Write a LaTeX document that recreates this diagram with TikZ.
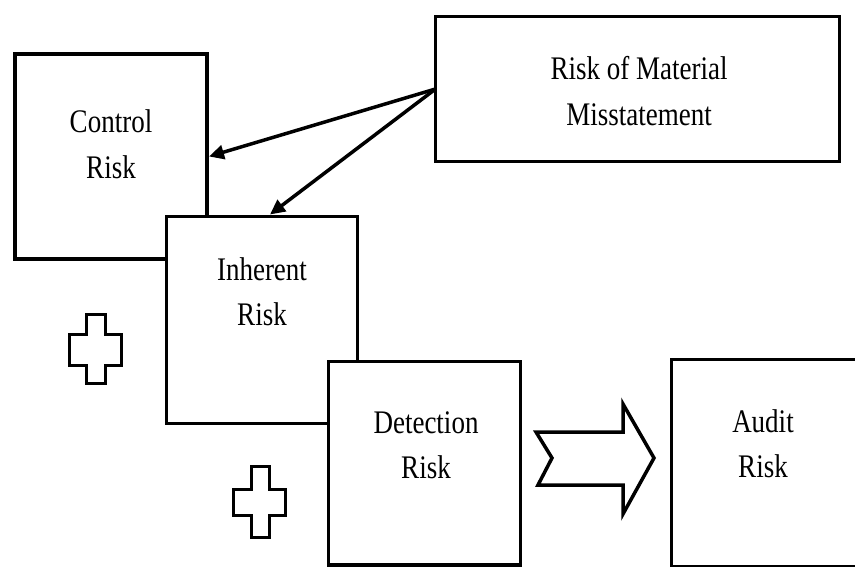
\documentclass[tikz,border=0pt]{standalone}
\usepackage{fontspec}
\setmainfont{Liberation Serif}
\usetikzlibrary{arrows.meta}
\newcommand{\twoline}[2]{\scalebox{1}[1.22]{\begin{tabular}[t]{@{}c@{}}#1\\#2\end{tabular}}}
\tikzset{
  box/.style={draw=black, line width=3.5pt, fill=white, inner sep=0pt, outer sep=0pt, rectangle},
  lbl/.style={inner sep=0pt, anchor=base, font=\fontsize{27}{37}\selectfont},
  conn/.style={line width=3.5pt, -{Triangle[length=15pt,width=14pt]}},
  deco/.style={draw=black, line width=3.5pt, fill=white, line join=miter}
}
\begin{document}
\begin{tikzpicture}[x=1pt,y=-1pt]
\useasboundingbox (0,0) rectangle (855,567);
\clip (0,0) rectangle (855,567);
\fill[white] (0,0) rectangle (855,567);
% boxes
\node[box, minimum width=192pt, minimum height=205pt] (ctrl) at (111,156.5) {};
\node[box, minimum width=191pt, minimum height=207pt] (inh) at (262,320) {};
\node[box, minimum width=192pt, minimum height=203.5pt] (det) at (424.5,463.25) {};
\node[box, minimum width=198.5pt, minimum height=207.5pt] (aud) at (770.75,463.25) {};
\node[box, minimum width=404pt, minimum height=145pt] (rmm) at (637.5,89) {};
% labels
\node[lbl] (ctrlt) at (111,133) {\twoline{Control}{Risk}};
\node[lbl] (inht) at (262,280) {\twoline{Inherent}{Risk}};
\node[lbl] (dett) at (426,433) {\twoline{Detection}{Risk}};
\node[lbl] (audt) at (763,432) {\twoline{Audit}{Risk}};
\node[lbl] (rmmt) at (639,80) {\twoline{Risk of Material}{Misstatement}};
% connectors
\draw[conn] (rmm.west) -- ([xshift=2pt]ctrl.east);
\draw[conn] (rmm.west) -- ([xshift=8pt,yshift=2pt]inh.north);
% plus signs
\draw[deco] (86.5,314.5) -- (105.5,314.5) -- (105.5,334.5) -- (121.5,334.5) -- (121.5,365.5)
  -- (105.5,365.5) -- (105.5,383.5) -- (86.5,383.5) -- (86.5,365.5) -- (69.5,365.5)
  -- (69.5,334.5) -- (86.5,334.5) -- cycle;
\draw[deco] (251.5,466.5) -- (269.5,466.5) -- (269.5,489.5) -- (285.5,489.5) -- (285.5,515.5)
  -- (269.5,515.5) -- (269.5,537.5) -- (251.5,537.5) -- (251.5,515.5) -- (233.5,515.5)
  -- (233.5,489.5) -- (251.5,489.5) -- cycle;
% chevron arrow
\draw[deco] (536,432) -- (623,432) -- (623,404) -- (654,458) -- (623,514) -- (623,485)
  -- (538,485) -- (552,458) -- cycle;
\end{tikzpicture}
\end{document}
